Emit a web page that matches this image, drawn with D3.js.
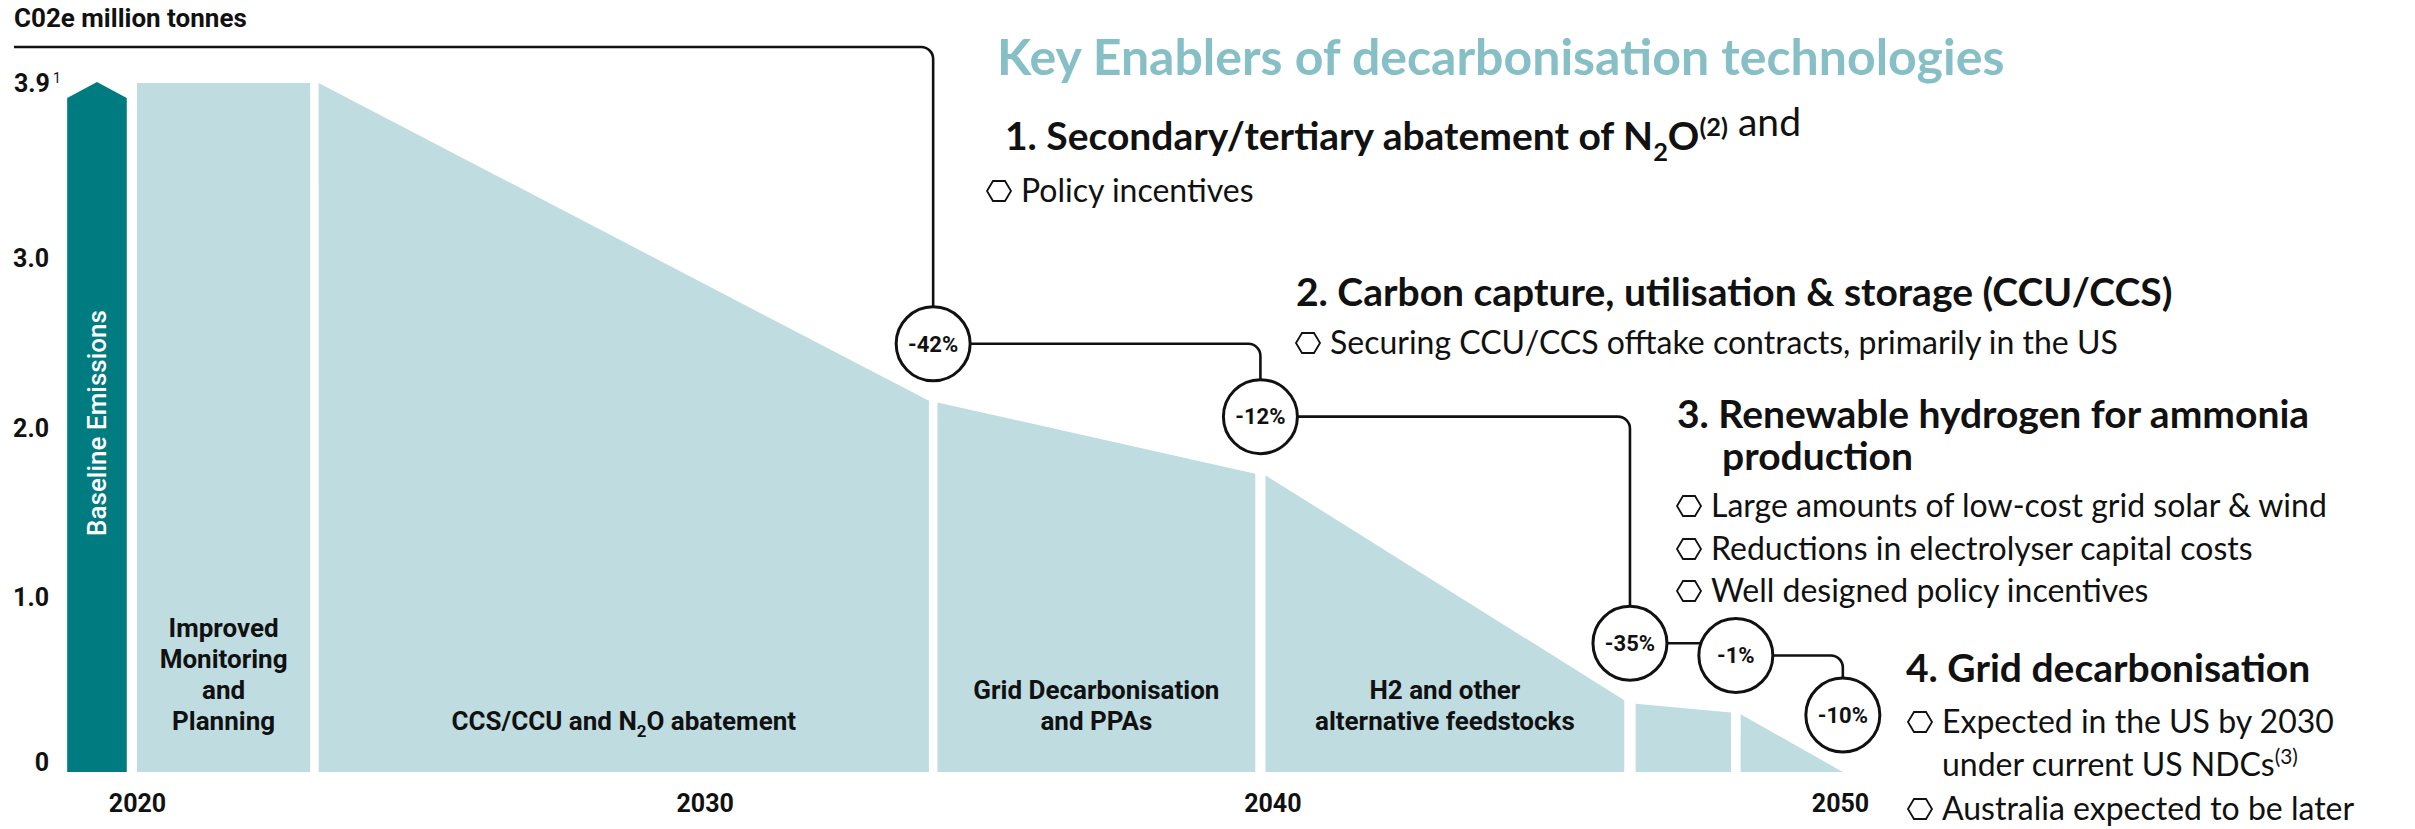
<html>
<head>
<title>Ammonia decarbonisation pathway</title>
<style>
    body { margin: 0; background: #fff; }
    .cond { font-family: Roboto, 'Liberation Sans', sans-serif; }
    .side { font-family: Lato, 'Open Sans', sans-serif; }
</style>
</head>
<body>
<svg></svg>
<script src="https://d3js.org/d3.v7.min.js"></script>
<script>
// values, CO2e million tonnes
const baselineValue = 3.9;
const baselineSpan = [2018.77, 2019.82];

const segLabels = [
    ["Improved", "Monitoring", "and", "Planning"],
    ["CCS/CCU and N_{2}O abatement"],
    ["Grid Decarbonisation", "and PPAs"],
    ["H2 and other", "alternative feedstocks"],
    [],
    []
];
const segStart = [2020, 2023.2, 2034.1, 2039.88, 2046.4, 2048.25];
const segEnd   = [2023.05, 2033.95, 2039.7, 2046.2, 2048.08, 2050.05];
const segFrom  = [3.9, 3.9, 2.15, 1.72, 0.39, 0.33];
const segTo    = [3.9, 2.16, 1.73, 0.41, 0.34, 0];
const reductions = ["", "-42%", "-12%", "-35%", "-1%", "-10%"];

const yTicks = [0, 1, 2, 3, 3.9];
const yearTicks = [2020, 2030, 2040, 2050];

const title = "Key Enablers of decarbonisation technologies";
const enablerTitles = [
    "1. Secondary/tertiary abatement of N_{2}O^{(2)}",
    "2. Carbon capture, utilisation & storage (CCU/CCS)",
    "3. Renewable hydrogen for ammonia\nproduction",
    "4. Grid decarbonisation"
];
const enablerTails = [" and", "", "", ""];
const enablerBullets = [
    ["Policy incentives"],
    ["Securing CCU/CCS offtake contracts, primarily in the US"],
    ["Large amounts of low-cost grid solar & wind", "Reductions in electrolyser capital costs", "Well designed policy incentives"],
    ["Expected in the US by 2030\nunder current US NDCs^{(3)}", "Australia expected to be later"]
];

const width = 2415, height = 829;
const teal = "#007b80", pale = "#bfdce1", titleCol = "#86bfc6", ink = "#111";

const svg = d3.select("svg").attr("width", width).attr("height", height);

const x = d3.scaleLinear().domain([2020, 2050]).range([137, 1840]);
const y = d3.scaleLinear().domain(yTicks).range([772, 597, 428, 258, 83]);

// write text with _{sub} and ^{sup} parts as tspans
function rich(sel, str, fs) {
    const parts = str.split(/(_\{[^}]*\}|\^\{[^}]*\})/).filter(function(s) { return s.length; });
    let shift = 0;
    parts.forEach(function(p) {
        let target = 0, txt = p, small = false;
        if (p.startsWith("_{")) { txt = p.slice(2, -1); target = 0.28 * fs; small = true; }
        else if (p.startsWith("^{")) { txt = p.slice(2, -1); target = -0.36 * fs; small = true; }
        const ts = sel.append("tspan").text(txt);
        if (target - shift !== 0) ts.attr("dy", target - shift);
        if (small) ts.attr("font-size", fs * 0.65);
        shift = target;
    });
    return sel;
}

// baseline emissions bar with pointed top
const b0 = x(baselineSpan[0]), b1 = x(baselineSpan[1]), bTop = y(baselineValue) - 1;
svg.append("path")
    .attr("d", d3.line()([[b0, y(0)], [b0, bTop + 16], [(b0 + b1) / 2, bTop], [b1, bTop + 16], [b1, y(0)]]) + "Z")
    .attr("fill", teal);
svg.append("text")
    .attr("class", "cond")
    .attr("transform", "translate(" + ((b0 + b1) / 2 + 9) + "," + 423 + ") rotate(-90)")
    .attr("text-anchor", "middle")
    .attr("fill", "#fff")
    .attr("font-size", 26)
    .attr("font-weight", 500)
    .text("Baseline Emissions");

// waterfall segments
svg.selectAll(".seg")
    .data(segStart.map(function(s, i) { return i; }))
    .join("path")
    .attr("class", "seg")
    .attr("fill", pale)
    .attr("d", function(i) {
        return d3.line()([[x(segStart[i]), y(0)], [x(segStart[i]), y(segFrom[i])], [x(segEnd[i]), y(segTo[i])], [x(segEnd[i]), y(0)]]) + "Z";
    });

// labels inside the segments, bottom aligned
segLabels.forEach(function(lines, i) {
    const cx = (x(segStart[i]) + x(segEnd[i])) / 2;
    lines.forEach(function(line, j) {
        const t = svg.append("text")
            .attr("class", "cond")
            .attr("x", cx)
            .attr("y", 730 - (lines.length - 1 - j) * 31)
            .attr("text-anchor", "middle")
            .attr("font-size", 26)
            .attr("font-weight", "bold")
            .attr("fill", ink);
        rich(t, line, 26);
    });
});

// y axis
const yAxis = svg.append("g")
    .attr("transform", "translate(52,0)")
    .call(d3.axisLeft(y).tickValues(yTicks).tickSize(0).tickPadding(3)
        .tickFormat(function(d) { return d === 0 ? "0" : d3.format(".1f")(d); }));
yAxis.select(".domain").remove();
yAxis.selectAll("text")
    .attr("class", "cond")
    .attr("font-size", 25)
    .attr("font-weight", "bold")
    .attr("fill", ink)
    .attr("dy", function(d) { return d === 0 ? "-0.05em" : "0.32em"; });
yAxis.selectAll(".tick").filter(function(d) { return d === baselineValue; })
    .select("text").attr("x", -38).attr("text-anchor", "start")
    .append("tspan").attr("dy", -9).attr("dx", 3).attr("font-size", 14).attr("font-weight", "normal").text("1");

// x axis
const xAxis = svg.append("g")
    .attr("transform", "translate(0," + y(0) + ")")
    .call(d3.axisBottom(x).tickValues(yearTicks).tickSize(0).tickPadding(22).tickFormat(d3.format("d")));
xAxis.select(".domain").remove();
xAxis.selectAll("text")
    .attr("class", "cond")
    .attr("font-size", 25)
    .attr("font-weight", "bold")
    .attr("fill", ink);

svg.append("text")
    .attr("class", "cond")
    .attr("x", 14)
    .attr("y", 27)
    .attr("font-size", 26)
    .attr("font-weight", "bold")
    .attr("fill", ink)
    .text("C02e million tonnes");

// reduction bubbles and the connector that runs through them
const r = 37, lift = 57, corner = 12;
const bubbles = [];
reductions.forEach(function(lab, i) {
    if (!lab) return;
    const cx = i < segStart.length - 1 ? (x(segEnd[i]) + x(segStart[i + 1])) / 2 : x(segEnd[i]);
    bubbles.push({ label: lab, cx: cx, cy: y(segTo[i]) - lift });
});

const path = d3.path();
path.moveTo(14, 47);
let px = 14, py = 47;
bubbles.forEach(function(b, k) {
    if (k > 0) { px = bubbles[k - 1].cx; py = bubbles[k - 1].cy; path.moveTo(px, py); }
    if (b.cy - r > py + corner) {
        path.lineTo(b.cx - corner, py);
        path.arcTo(b.cx, py, b.cx, py + corner, corner);
        path.lineTo(b.cx, b.cy);
    } else {
        path.lineTo(b.cx, py);
    }
});
svg.append("path")
    .attr("d", path.toString())
    .attr("fill", "none")
    .attr("stroke", ink)
    .attr("stroke-width", 2.6);

const bub = svg.selectAll(".bubble")
    .data(bubbles)
    .join("g")
    .attr("class", "bubble")
    .attr("transform", function(d) { return "translate(" + d.cx + "," + d.cy + ")"; });
bub.append("circle")
    .attr("r", r)
    .attr("fill", "#fff")
    .attr("stroke", ink)
    .attr("stroke-width", 3);
bub.append("text")
    .attr("class", "cond")
    .attr("text-anchor", "middle")
    .attr("dy", "0.35em")
    .attr("font-size", 22)
    .attr("font-weight", "bold")
    .attr("fill", ink)
    .text(function(d) { return d.label; });

// key enablers text
svg.append("text")
    .attr("class", "side")
    .attr("x", 997)
    .attr("y", 75)
    .attr("font-size", 50)
    .attr("font-weight", "bold")
    .attr("fill", titleCol)
    .text(title);

const blocks = [
    { x: 1005, y: 150, bx: 987, by: [202] },
    { x: 1296, y: 306, bx: 1296, by: [354] },
    { x: 1677, y: 428, bx: 1677, by: [517, 560, 602] },
    { x: 1906, y: 682, bx: 1908, by: [733, 820] }
];
const headSize = 39, fs = 32, lineGap = 43;

function hexagon(cx, cy) {
    const w = 12, h = 10;
    return d3.line()([[cx - w, cy], [cx - w / 2, cy - h], [cx + w / 2, cy - h], [cx + w, cy], [cx + w / 2, cy + h], [cx - w / 2, cy + h]]) + "Z";
}

enablerTitles.forEach(function(head, i) {
    const L = blocks[i];
    head.split("\n").forEach(function(line, j) {
        const t = svg.append("text")
            .attr("class", "side")
            .attr("x", L.x + (j > 0 ? 45 : 0))
            .attr("y", L.y + j * 42)
            .attr("font-size", headSize)
            .attr("fill", ink);
        const bold = t.append("tspan").attr("font-weight", "bold");
        rich(bold, line, headSize);
        if (j === 0 && enablerTails[i]) {
            t.append("tspan").attr("font-weight", "normal").text(enablerTails[i]);
        }
    });
    enablerBullets[i].forEach(function(bullet, k) {
        const by = L.by[k];
        svg.append("path")
            .attr("d", hexagon(L.bx + 12, by - 11))
            .attr("fill", "none")
            .attr("stroke", ink)
            .attr("stroke-width", 1.8);
        bullet.split("\n").forEach(function(line, j) {
            const t = svg.append("text")
                .attr("class", "side")
                .attr("x", L.bx + 34)
                .attr("y", by + j * lineGap)
                .attr("font-size", fs)
                .attr("fill", ink);
            rich(t, line, fs);
        });
    });
});
</script>
</body>
</html>
